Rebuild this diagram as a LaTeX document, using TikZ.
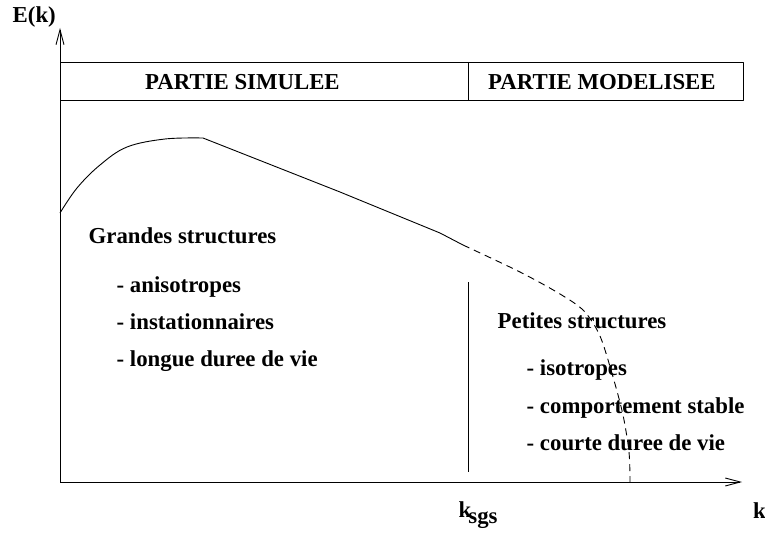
\documentclass[tikz,border=0pt]{standalone}
\usepackage{fontspec}
\setmainfont{Liberation Serif}
\usetikzlibrary{arrows.meta}
\tikzset{
  lbl/.style={anchor=base west, inner sep=0pt, font=\fontsize{22.8}{26}\selectfont\bfseries},
  ln/.style={line width=0.9pt, line join=round},
  axis/.style={ln, -{Straight Barb[length=15pt,width=8pt]}},
  dsh/.style={ln, dash pattern=on 7pt off 5pt}
}
\begin{document}
\begin{tikzpicture}[x=1pt,y=-1pt]
\useasboundingbox (0,0) rectangle (765,535);
% axes
\coordinate (O) at (60,482);
\coordinate (ytip) at (60,28);
\coordinate (xtip) at (742,482);
\draw[axis] (O) -- (ytip);
\draw[axis] (O) -- (xtip);
% header box
\draw[ln] (60,62) rectangle (743,100);
\coordinate (divT) at (468,62);
\coordinate (divB) at (468,100);
\draw[ln] (divT) -- (divB);
\node[lbl] (sim) at (145,89) {PARTIE SIMULEE};
\node[lbl] (mod) at (488,89) {PARTIE MODELISEE};
% separation line at k_sgs
\coordinate (sepT) at (468,282);
\coordinate (sepB) at (468,472);
\draw[ln] (sepT) -- (sepB);
% spectrum curve
\draw[ln] plot[smooth, tension=0.6] coordinates {(60,213) (77,188) (100,165) (127,147) (165,139) (203,138)}
  -- (340,192) -- (440,233) -- (463,245);
\draw[dsh] plot[smooth, tension=0.5] coordinates {(463,245) (520,272) (560,294) (584,311) (600,336) (613,377) (623,415) (629,452) (630,482)};
% labels
\node[lbl] (Ek) at (12.5,23) {E(k)};
\node[lbl] (gs) at (88.5,243) {Grandes structures};
\node[lbl] (gs1) at (116.5,292) {- anisotropes};
\node[lbl] (gs2) at (116.5,329.5) {- instationnaires};
\node[lbl] (gs3) at (116.5,366) {- longue duree de vie};
\node[lbl] (ps) at (497.5,328.5) {Petites structures};
\node[lbl] (ps1) at (526.5,375) {- isotropes};
\node[lbl] (ps2) at (526.5,413) {- comportement stable};
\node[lbl] (ps3) at (526.5,450.5) {- courte duree de vie};
\node[lbl] (ksgs) at (458.5,517) {k\kern-3pt\raisebox{-6pt}{sgs}};
\node[lbl] (k) at (753,518) {k};
\end{tikzpicture}
\end{document}
